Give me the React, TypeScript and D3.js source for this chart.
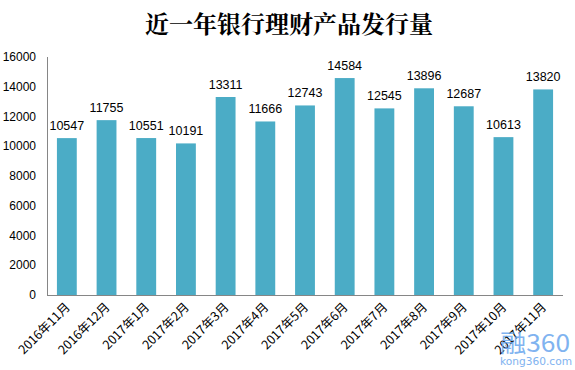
import React from "react";
import * as d3 from "d3";

const categories = [
  "2016年11月", "2016年12月", "2017年1月", "2017年2月", "2017年3月", "2017年4月",
  "2017年5月", "2017年6月", "2017年7月", "2017年8月", "2017年9月", "2017年10月", "2017年11月",
];
const values = [10547, 11755, 10551, 10191, 13311, 11666, 12743, 14584, 12545, 13896, 12687, 10613, 13820];
const yTicks = [0, 2000, 4000, 6000, 8000, 10000, 12000, 14000, 16000];
const title = "近一年银行理财产品发行量";

const W = 575, H = 370;
const left = 47, right = 563, top = 57, bottom = 295;

export default function App() {
  const x = d3.scaleBand<string>().domain(categories).range([left, right]).paddingInner(0.5).paddingOuter(0.25);
  const y = d3.scaleLinear().domain([0, 16000]).range([bottom, top]);
  const font = "'Liberation Sans', Arial, sans-serif";
  return (
    <svg width={W} height={H} style={{ position: "absolute", left: 0, top: 0, background: "#fff" }}>
      <text x={289} y={33} textAnchor="middle" fontSize={24} fontWeight="bold"
        fontFamily="'Noto Serif CJK SC', 'Noto Sans CJK SC', serif" fill="#000">{title}</text>
      {yTicks.map((t) => (
        <text key={t} x={36} y={y(t) + 4} textAnchor="end" fontSize={12} fontFamily={font} fill="#000">{t}</text>
      ))}
      {values.map((v, i) => {
        const c = categories[i];
        const bx = x(c)!;
        return (
          <g key={c}>
            <rect x={bx} y={y(v)} width={x.bandwidth()} height={bottom - y(v)} fill="#4BACC6" />
            <text x={bx + x.bandwidth() / 2} y={y(v) - 8} textAnchor="middle" fontSize={12.5} fontFamily={font} fill="#000">{v}</text>
          </g>
        );
      })}
      <line x1={left + 0.5} x2={left + 0.5} y1={top} y2={bottom} stroke="#868686" strokeWidth={1} />
      <line x1={left} x2={right} y1={bottom + 0.5} y2={bottom + 0.5} stroke="#868686" strokeWidth={1} />
      {categories.map((c) => {
        const cx = x(c)! + x.bandwidth() / 2 + 4;
        const cy = bottom + 13;
        return (
          <text key={c} x={cx} y={cy} transform={`rotate(-45 ${cx} ${cy})`} textAnchor="end" fontSize={12.5}
            fontFamily="'Noto Sans CJK SC', sans-serif" fill="#000">{c}</text>
        );
      })}
      <text x={500} y={352} fontSize={24} fontFamily="'Noto Sans CJK SC', sans-serif" fill="#6aa6ee" opacity={0.85}
        textLength={70} lengthAdjust="spacingAndGlyphs">融360</text>
      <text x={500} y={365} fontSize={10} fontFamily="'DejaVu Sans', sans-serif" fill="#6aa6ee" opacity={0.85}
        textLength={72} lengthAdjust="spacingAndGlyphs">kong360.com</text>
    </svg>
  );
}
